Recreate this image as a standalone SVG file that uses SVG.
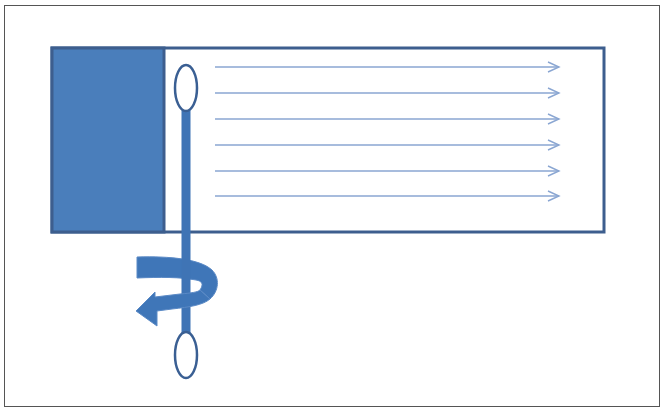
<svg xmlns="http://www.w3.org/2000/svg" width="662" height="409" viewBox="0 0 662 409">
<defs>
<marker id="ah" markerWidth="14" markerHeight="12" refX="12" refY="6" orient="auto" markerUnits="userSpaceOnUse">
<path d="M1,1 L12,6 L1,11" fill="none" stroke="#8aa6d2" stroke-width="1.4"/>
</marker>
<style>
.flow{stroke:#8aa6d2;stroke-width:1.4;fill:none;marker-end:url(#ah)}
.rib{fill:#3f76b8;stroke:#5b8ac6;stroke-width:1}
.oval{fill:#fff;stroke:#3a5f93;stroke-width:2.5}
</style>
</defs>
<rect x="0" y="0" width="662" height="409" fill="#fff"/>
<rect x="4.5" y="5.5" width="655" height="401" fill="none" stroke="#555" stroke-width="1"/>
<g id="channel">
<rect x="52" y="48" width="552" height="184" fill="#fff" stroke="#3d5e8e" stroke-width="3"/>
<rect x="52" y="48" width="112" height="184" fill="#4a7ebb" stroke="#3d5e8e" stroke-width="3"/>
</g>
<g id="flow-arrows">
<line class="flow" x1="215" y1="67" x2="559" y2="67"/>
<line class="flow" x1="215" y1="93" x2="559" y2="93"/>
<line class="flow" x1="215" y1="119" x2="559" y2="119"/>
<line class="flow" x1="215" y1="145" x2="559" y2="145"/>
<line class="flow" x1="215" y1="171" x2="559" y2="171"/>
<line class="flow" x1="215" y1="196" x2="559" y2="196"/>
</g>
<g id="rotation-back">
<path class="rib" d="M137,257 C170,256 200,259 212,270 C220,278 219,291 210,299 L200,290 C204,284 202,281 196,280 C180,277 160,277 137,278 Z"/>
</g>
<g id="swab">
<rect x="181.5" y="110" width="9" height="224" fill="#3f74b5"/>
<ellipse class="oval" cx="186" cy="88" rx="11" ry="23"/>
<ellipse class="oval" cx="186" cy="355" rx="11" ry="23"/>
</g>
<g id="rotation-front">
<path class="rib" d="M210,299 C203,305 190,307 172,309 L157,311 L157,326 L136,311 L155,292 L155,297 L180,294 C192,293 198,292 200,290 Z"/>
</g>
</svg>
